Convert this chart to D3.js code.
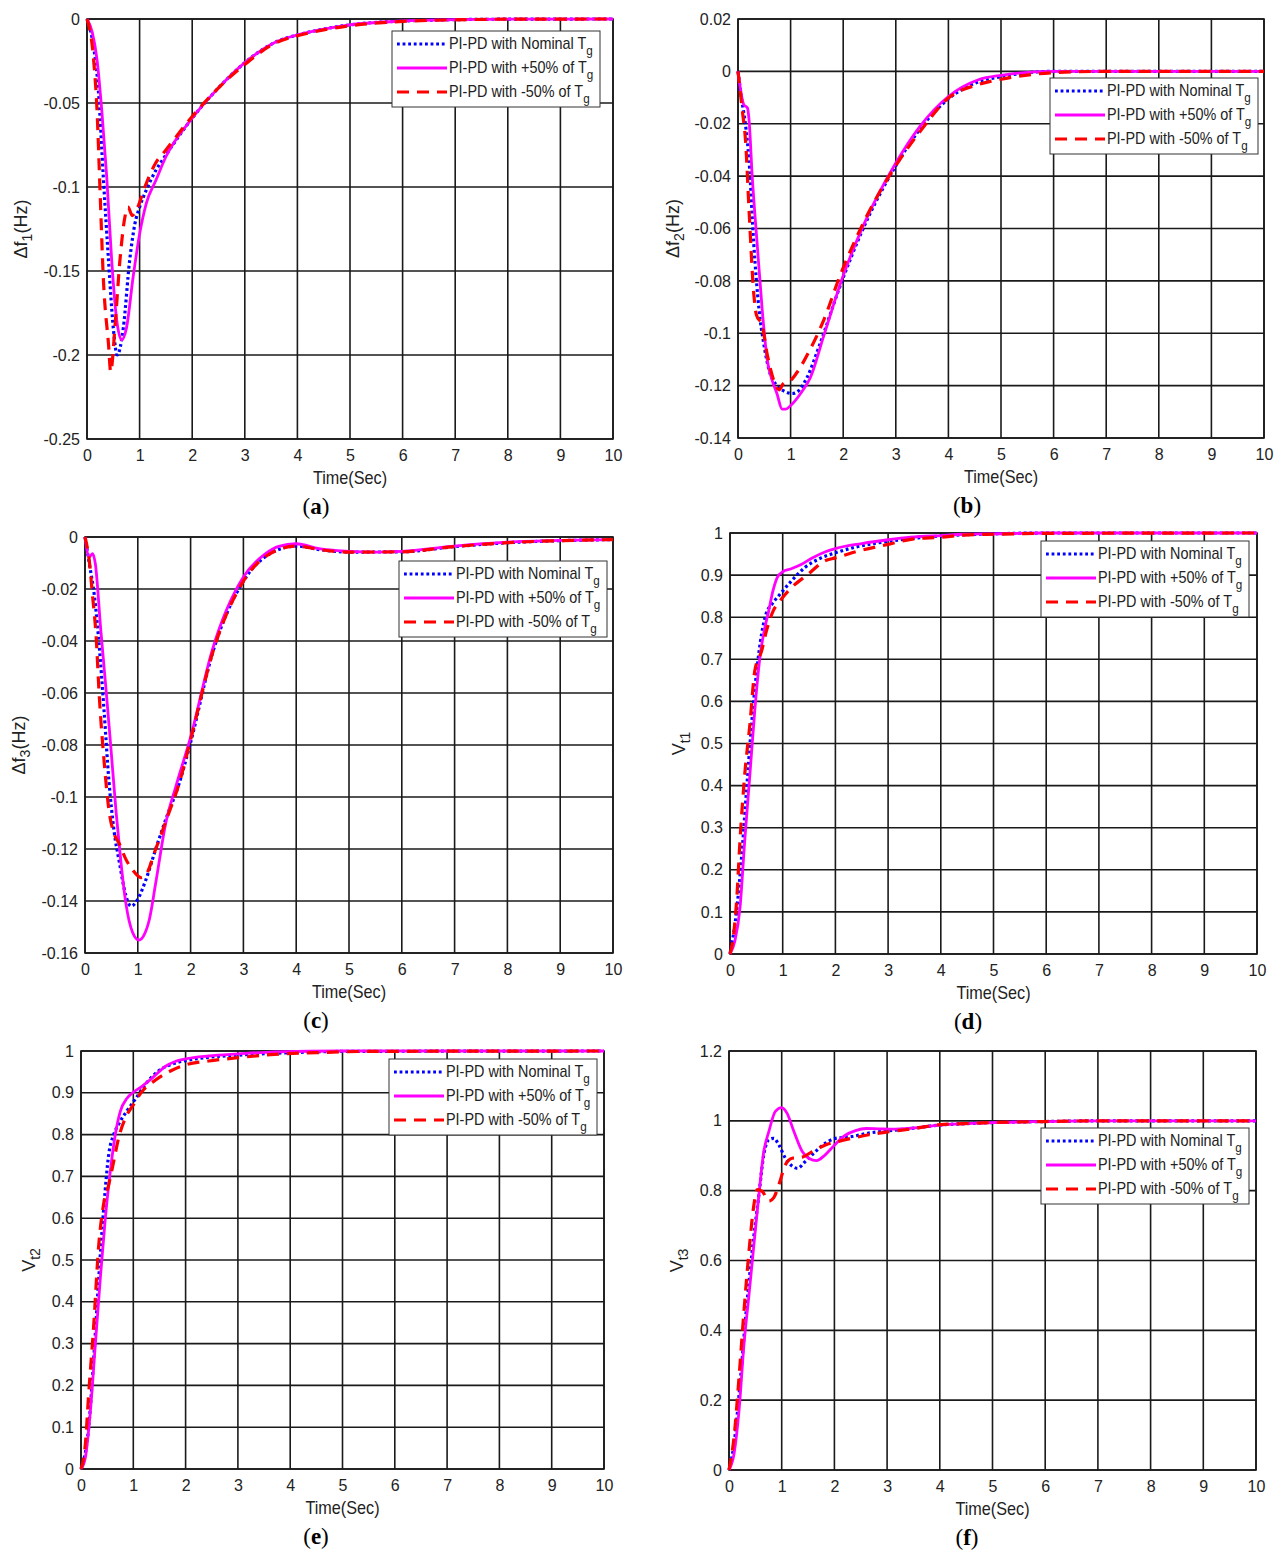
<!DOCTYPE html>
<html><head><meta charset="utf-8">
<script src="https://cdn.jsdelivr.net/npm/d3@7"></script>
<style>body{margin:0;background:#fff}svg{display:block}</style>
</head><body>
<svg id="chart" width="1281" height="1553"></svg>
<script>
// ---------- DATA ----------
const timeTicks = [0,1,2,3,4,5,6,7,8,9,10];
const ticksA = [0,-0.05,-0.1,-0.15,-0.2,-0.25];
const ticksB = [0.02,0,-0.02,-0.04,-0.06,-0.08,-0.1,-0.12,-0.14];
const ticksC = [0,-0.02,-0.04,-0.06,-0.08,-0.1,-0.12,-0.14,-0.16];
const ticksV = [0,0.1,0.2,0.3,0.4,0.5,0.6,0.7,0.8,0.9,1];
const ticksF = [0,0.2,0.4,0.6,0.8,1,1.2];
const seriesNames = ["PI-PD with Nominal T","PI-PD with +50% of T","PI-PD with -50% of T"];
const panelLetters = ["a","b","c","d","e","f"];

// panel (a) Δf1
const aNominal = [[0,0],[0.1,-0.012],[0.22,-0.044],[0.31,-0.094],[0.41,-0.144],[0.5,-0.184],[0.575,-0.2],[0.69,-0.184],[0.81,-0.144],[0.91,-0.122],[1.0,-0.112],[1.125,-0.102],[1.31,-0.09],[1.5,-0.081],[2.0,-0.059],[2.5,-0.041],[3.0,-0.026],[3.6,-0.0135],[4,-0.0095],[4.5,-0.006],[5,-0.0035],[6,-0.0012],[7,-0.0004],[8,-0.0001],[10,0]];
const aPlus = [[0,0],[0.1,-0.008],[0.19,-0.024],[0.28,-0.054],[0.375,-0.094],[0.47,-0.144],[0.56,-0.178],[0.66,-0.191],[0.75,-0.184],[0.875,-0.154],[1.0,-0.128],[1.125,-0.11],[1.31,-0.096],[1.5,-0.082],[2.0,-0.059],[2.5,-0.041],[3.0,-0.026],[3.6,-0.0135],[4,-0.0095],[4.5,-0.006],[5,-0.0035],[6,-0.0012],[7,-0.0004],[8,-0.0001],[10,0]];
const aMinus = [[0,0],[0.125,-0.024],[0.19,-0.054],[0.25,-0.104],[0.31,-0.154],[0.41,-0.194],[0.45,-0.21],[0.53,-0.184],[0.625,-0.144],[0.72,-0.118],[0.78,-0.112],[0.86,-0.117],[0.95,-0.113],[1.1,-0.1],[1.3,-0.086],[1.5,-0.078],[2.0,-0.058],[2.5,-0.041],[3.0,-0.027],[3.6,-0.014],[4,-0.01],[4.5,-0.0065],[5,-0.004],[6,-0.0014],[7,-0.0005],[8,-0.0001],[10,0]];

// panel (b) Δf2
const bNominal = [[0,0],[0.08,-0.012],[0.14,-0.02],[0.21,-0.034],[0.3,-0.066],[0.4,-0.091],[0.49,-0.104],[0.59,-0.114],[0.74,-0.12],[0.87,-0.122],[1.03,-0.123],[1.15,-0.122],[1.31,-0.117],[1.56,-0.104],[1.94,-0.082],[2.38,-0.06],[3,-0.036],[3.46,-0.022],[4,-0.0105],[4.57,-0.004],[5,-0.002],[6,0],[10,0]];
const bPlus = [[0,0],[0.11,-0.0127],[0.18,-0.014],[0.21,-0.0185],[0.27,-0.04],[0.365,-0.066],[0.46,-0.091],[0.555,-0.11],[0.65,-0.118],[0.74,-0.123],[0.84,-0.129],[0.9,-0.129],[1.03,-0.127],[1.19,-0.123],[1.375,-0.117],[1.63,-0.101],[2.0,-0.078],[2.38,-0.059],[3.0,-0.035],[3.46,-0.021],[4.0,-0.0096],[4.57,-0.0032],[5,-0.0015],[6,0],[10,0]];
const bMinus = [[0,0],[0.08,-0.0146],[0.145,-0.027],[0.21,-0.053],[0.3,-0.085],[0.35,-0.093],[0.46,-0.097],[0.555,-0.108],[0.68,-0.118],[0.78,-0.1216],[0.87,-0.119],[1.0,-0.118],[1.12,-0.115],[1.375,-0.106],[1.63,-0.095],[1.94,-0.078],[2.38,-0.058],[3,-0.036],[3.46,-0.023],[4,-0.0102],[4.57,-0.005],[5,-0.003],[6,-0.0005],[7,0],[10,0]];

// panel (c) Δf3
const cNominal = [[0,0],[0.08,-0.01],[0.18,-0.023],[0.27,-0.042],[0.365,-0.068],[0.45,-0.093],[0.55,-0.113],[0.65,-0.125],[0.775,-0.138],[0.87,-0.142],[0.995,-0.1395],[1.15,-0.132],[1.34,-0.12],[1.53,-0.1086],[1.78,-0.095],[2.0,-0.079],[2.41,-0.045],[3.0,-0.017],[3.42,-0.0075],[4,-0.0035],[4.5,-0.005],[5,-0.0058],[6,-0.0057],[7,-0.0037],[8,-0.0022],[9,-0.0014],[10,-0.001]];
const cPlus = [[0,0],[0.08,-0.0077],[0.145,-0.0064],[0.195,-0.0102],[0.3,-0.036],[0.4,-0.059],[0.49,-0.081],[0.59,-0.106],[0.68,-0.125],[0.775,-0.141],[0.9,-0.152],[1.02,-0.155],[1.12,-0.153],[1.22,-0.147],[1.34,-0.133],[1.53,-0.11],[1.72,-0.096],[2.0,-0.077],[2.41,-0.0435],[3.0,-0.0154],[3.42,-0.0064],[3.67,-0.0036],[4.0,-0.0026],[4.43,-0.0045],[5,-0.0055],[5.5,-0.0058],[6,-0.0055],[7,-0.0035],[8,-0.002],[9,-0.0013],[10,-0.001]];
const cMinus = [[0,0],[0.08,-0.009],[0.145,-0.023],[0.21,-0.038],[0.27,-0.061],[0.365,-0.087],[0.46,-0.106],[0.55,-0.114],[0.65,-0.118],[0.775,-0.124],[0.9,-0.128],[1.06,-0.131],[1.15,-0.13],[1.34,-0.12],[1.59,-0.106],[1.78,-0.095],[2.0,-0.078],[2.41,-0.045],[3.0,-0.017],[3.42,-0.0075],[4,-0.0035],[4.5,-0.005],[5,-0.0058],[6,-0.0057],[7,-0.0037],[8,-0.0022],[9,-0.0014],[10,-0.001]];

// panel (d) Vt1
const dNominal = [[0,0],[0.126,0.103],[0.22,0.23],[0.315,0.39],[0.41,0.546],[0.5,0.664],[0.6,0.76],[0.69,0.81],[0.79,0.83],[0.945,0.854],[1.165,0.886],[1.42,0.918],[1.73,0.941],[2.0,0.953],[2.43,0.968],[3.0,0.98],[4.0,0.993],[5,0.998],[6,1],[10,1]];
const dPlus = [[0,0],[0.095,0.032],[0.19,0.11],[0.28,0.27],[0.378,0.427],[0.47,0.578],[0.567,0.704],[0.66,0.775],[0.72,0.807],[0.82,0.865],[0.9,0.895],[1.0,0.908],[1.16,0.915],[1.35,0.925],[1.55,0.94],[1.8,0.955],[2.0,0.963],[2.5,0.975],[3,0.984],[3.43,0.99],[4.0,0.994],[4.44,0.997],[5,0.998],[6,1],[10,1]];
const dMinus = [[0,0],[0.063,0.04],[0.126,0.127],[0.19,0.27],[0.28,0.427],[0.378,0.546],[0.47,0.672],[0.6,0.72],[0.69,0.767],[0.82,0.815],[0.945,0.838],[1.165,0.87],[1.48,0.902],[1.8,0.934],[2.0,0.941],[2.43,0.957],[3,0.973],[3.43,0.985],[4,0.99],[4.44,0.995],[5,0.997],[6,0.999],[10,1]];

// panel (e) Vt2
const eNominal = [[0,0],[0.146,0.099],[0.24,0.258],[0.34,0.457],[0.43,0.616],[0.53,0.752],[0.625,0.8],[0.72,0.825],[0.88,0.857],[1.04,0.885],[1.23,0.92],[1.48,0.952],[1.8,0.971],[2.0,0.977],[2.44,0.985],[3.0,0.99],[4,0.996],[5,0.999],[10,1]];
const ePlus = [[0,0],[0.083,0.027],[0.18,0.139],[0.274,0.298],[0.37,0.457],[0.465,0.6],[0.56,0.712],[0.656,0.8],[0.75,0.855],[0.88,0.887],[0.975,0.899],[1.16,0.915],[1.36,0.935],[1.61,0.963],[1.8,0.975],[2.0,0.981],[2.44,0.988],[3.0,0.993],[3.7,0.998],[5,1],[10,1]];
const eMinus = [[0,0],[0.083,0.059],[0.146,0.178],[0.24,0.338],[0.34,0.537],[0.43,0.632],[0.53,0.68],[0.625,0.736],[0.72,0.792],[0.85,0.84],[1.0,0.871],[1.165,0.903],[1.42,0.93],[1.74,0.954],[2.0,0.967],[2.44,0.976],[3.0,0.984],[3.7,0.992],[4.5,0.996],[5.5,0.999],[10,1]];

// panel (f) Vt3
const fNominal = [[0,0],[0.095,0.074],[0.22,0.265],[0.315,0.436],[0.44,0.627],[0.568,0.789],[0.66,0.903],[0.757,0.946],[0.85,0.95],[0.946,0.931],[1.07,0.893],[1.2,0.87],[1.3,0.864],[1.45,0.884],[1.64,0.912],[1.83,0.936],[2.0,0.949],[2.33,0.955],[2.65,0.965],[3.0,0.971],[3.5,0.979],[4,0.988],[4.5,0.992],[5,0.995],[6,0.998],[7,1],[10,1]];
const fPlus = [[0,0],[0.095,0.046],[0.19,0.17],[0.284,0.36],[0.38,0.503],[0.473,0.646],[0.568,0.789],[0.66,0.912],[0.757,0.97],[0.88,1.027],[1.0,1.038],[1.1,1.022],[1.23,0.97],[1.39,0.912],[1.52,0.892],[1.66,0.886],[1.82,0.902],[2.0,0.93],[2.2,0.958],[2.4,0.972],[2.6,0.978],[2.84,0.977],[3.1,0.976],[3.47,0.979],[4.0,0.988],[4.48,0.992],[5,0.995],[6,0.998],[7,1],[10,1]];
const fMinus = [[0,0],[0.095,0.093],[0.19,0.265],[0.284,0.455],[0.38,0.627],[0.473,0.76],[0.536,0.803],[0.63,0.798],[0.757,0.77],[0.85,0.78],[0.946,0.817],[1.07,0.874],[1.2,0.893],[1.39,0.896],[1.58,0.912],[1.83,0.931],[2.08,0.941],[2.33,0.95],[2.65,0.96],[3.0,0.968],[3.47,0.977],[4.0,0.989],[4.48,0.992],[5,0.995],[6,0.998],[7,1],[10,1]];

// ---------- LAYOUT ----------
const panels = [
  {letter:"a", x0:87,  x1:613,  y0:19,   y1:439,  dom:[-0.25,0],   ticks:ticksA, ylab:["Δf","1","(Hz)"], ylx:20,  legend:[392,31],   lettx:316, series:[aNominal,aPlus,aMinus]},
  {letter:"b", x0:738, x1:1264, y0:19,   y1:438,  dom:[-0.14,0.02],ticks:ticksB, ylab:["Δf","2","(Hz)"], ylx:672, legend:[1050,78],  lettx:967, series:[bNominal,bPlus,bMinus]},
  {letter:"c", x0:85,  x1:613,  y0:537,  y1:953,  dom:[-0.16,0],   ticks:ticksC, ylab:["Δf","3","(Hz)"], ylx:18,  legend:[399,561],  lettx:316, series:[cNominal,cPlus,cMinus]},
  {letter:"d", x0:730, x1:1257, y0:533,  y1:954,  dom:[0,1],       ticks:ticksV, ylab:["V","t1",""],     ylx:678, legend:[1041,541], lettx:968, series:[dNominal,dPlus,dMinus]},
  {letter:"e", x0:81,  x1:604,  y0:1051, y1:1469, dom:[0,1],       ticks:ticksV, ylab:["V","t2",""],     ylx:28,  legend:[389,1059], lettx:316, series:[eNominal,ePlus,eMinus]},
  {letter:"f", x0:729, x1:1256, y0:1051, y1:1470, dom:[0,1.2],     ticks:ticksF, ylab:["V","t3",""],     ylx:676, legend:[1041,1128],lettx:967, series:[fNominal,fPlus,fMinus]}
];
const styles = [
  {color:"#0000ff", width:3.2, dash:"2.8,2.8"},
  {color:"#ff00ff", width:2.8, dash:null},
  {color:"#ff0000", width:3.2, dash:"12,8"}
];
const SANS = "'Liberation Sans', Arial, Helvetica, sans-serif";

const svg = d3.select("#chart");

panels.forEach(p => {
  const g = svg.append("g");
  const x = d3.scaleLinear().domain([0,10]).range([p.x0,p.x1]);
  const y = d3.scaleLinear().domain(p.dom).range([p.y1,p.y0]);

  // grid
  g.append("g").selectAll("line").data(timeTicks).join("line")
    .attr("x1",d=>x(d)).attr("x2",d=>x(d)).attr("y1",p.y0).attr("y2",p.y1)
    .attr("stroke","#1a1a1a").attr("stroke-width",1.6);
  g.append("g").selectAll("line").data(p.ticks).join("line")
    .attr("x1",p.x0).attr("x2",p.x1).attr("y1",d=>y(d)).attr("y2",d=>y(d))
    .attr("stroke","#1a1a1a").attr("stroke-width",1.6);

  // axes (labels only, MATLAB-style)
  const ax = d3.axisBottom(x).tickValues(timeTicks).tickSize(0).tickPadding(11).tickFormat(d3.format("d"));
  const xa = g.append("g").attr("transform",`translate(0,${p.y1})`).call(ax);
  xa.select(".domain").remove();
  xa.selectAll("text").attr("font-family",SANS).attr("font-size",16).attr("fill","#222");
  const ay = d3.axisLeft(y).tickValues(p.ticks).tickSize(0).tickPadding(7).tickFormat(d=>String(+d.toFixed(3)));
  const ya = g.append("g").attr("transform",`translate(${p.x0},0)`).call(ay);
  ya.select(".domain").remove();
  ya.selectAll("text").attr("font-family",SANS).attr("font-size",16).attr("fill","#222");

  // box
  g.append("rect").attr("x",p.x0).attr("y",p.y0).attr("width",p.x1-p.x0).attr("height",p.y1-p.y0)
    .attr("fill","none").attr("stroke","#1a1a1a").attr("stroke-width",1.6);

  // lines
  const line = d3.line().x(d=>x(d[0])).y(d=>y(d[1])).curve(d3.curveMonotoneX);
  p.series.forEach((s,i) => {
    const st = styles[i];
    g.append("path").datum(s).attr("d",line).attr("fill","none")
      .attr("stroke",st.color).attr("stroke-width",st.width)
      .attr("stroke-dasharray",st.dash).attr("stroke-linejoin","round");
  });

  // x label
  g.append("text").attr("transform",`translate(${(p.x0+p.x1)/2},${p.y1+45}) scale(0.9,1)`)
    .attr("text-anchor","middle").attr("font-family",SANS).attr("font-size",18).attr("fill","#222").text("Time(Sec)");

  // y label
  const yt = g.append("text").attr("transform",`translate(${p.ylx+7},${(p.y0+p.y1)/2}) rotate(-90)`)
    .attr("text-anchor","middle").attr("font-family",SANS).attr("font-size",18).attr("fill","#222");
  yt.append("tspan").text(p.ylab[0]);
  yt.append("tspan").attr("dy",5).attr("font-size",14).text(p.ylab[1]);
  if (p.ylab[2]) yt.append("tspan").attr("dy",-5).text(p.ylab[2]);

  // panel letter
  const lt = g.append("text").attr("x",p.lettx).attr("y",p.y1+75).attr("text-anchor","middle")
    .attr("font-family","'Liberation Serif','DejaVu Serif',serif").attr("font-size",23).attr("fill","#000");
  lt.append("tspan").text("(");
  lt.append("tspan").attr("font-weight","bold").text(p.letter);
  lt.append("tspan").text(")");

  // legend
  const [lx,ly] = p.legend;
  const lg = g.append("g").attr("transform",`translate(${lx},${ly})`);
  lg.append("rect").attr("x",0).attr("y",0).attr("width",208).attr("height",76)
    .attr("fill","#fff").attr("stroke","#333").attr("stroke-width",1);
  seriesNames.forEach((name,i) => {
    const st = styles[i];
    const cy = 13 + i*24;
    lg.append("line").attr("x1",5).attr("x2",55).attr("y1",cy).attr("y2",cy)
      .attr("stroke",st.color).attr("stroke-width",st.width).attr("stroke-dasharray",st.dash);
    const t = lg.append("text").attr("transform",`translate(57,${cy+5}) scale(0.9,1)`)
      .attr("font-family",SANS).attr("font-size",16).attr("fill","#222");
    t.append("tspan").text(name);
    t.append("tspan").attr("dy",6).attr("font-size",13).text("g");
  });
});
</script>
</body></html>
